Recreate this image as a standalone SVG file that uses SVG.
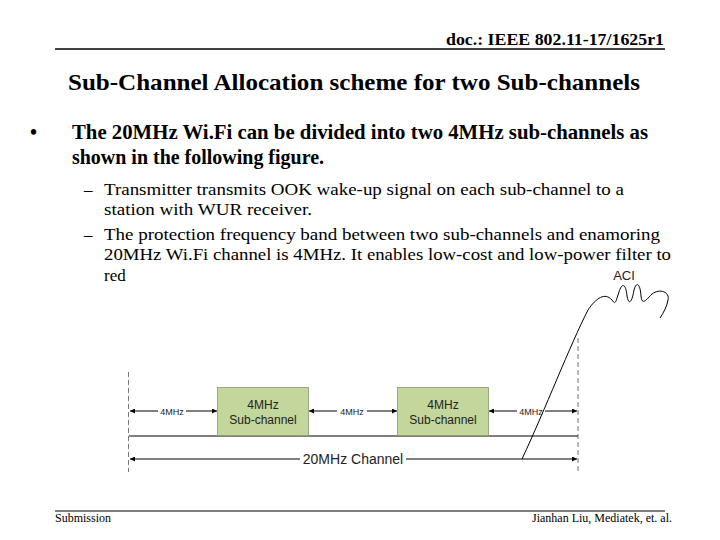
<svg xmlns="http://www.w3.org/2000/svg" width="720" height="540" viewBox="0 0 720 540">
<defs>
<marker id="a" viewBox="0 0 10 10" refX="10" refY="5" markerWidth="7" markerHeight="5" orient="auto-start-reverse" markerUnits="userSpaceOnUse"><path d="M0,0L10,5L0,10z" fill="#000"/></marker>
</defs>
<style>
.s{font-family:"Liberation Serif",serif;fill:#000}
.d{font-family:"Liberation Sans",sans-serif;fill:#222}
.ln{stroke:#000;stroke-width:1;fill:none}
.dash{stroke:#555;stroke-width:0.8;stroke-dasharray:5,3;fill:none}
.box{fill:#c3d69b;stroke:#8a9a6a;stroke-width:0.8}
</style>
<rect width="720" height="540" fill="#fff"/>
<text class="s" x="446" y="45" font-size="17" font-weight="bold" textLength="218" lengthAdjust="spacingAndGlyphs">doc.: IEEE 802.11-17/1625r1</text>
<line x1="55" y1="49" x2="665" y2="49" stroke="#000" stroke-width="1.5"/>
<text class="s" x="68" y="90" font-size="23" font-weight="bold" textLength="572" lengthAdjust="spacingAndGlyphs">Sub-Channel Allocation scheme for two Sub-channels</text>
<text class="s" x="30" y="139" font-size="20" font-weight="bold">•</text>
<text class="s" x="72" y="139" font-size="20" font-weight="bold" textLength="576" lengthAdjust="spacingAndGlyphs">The 20MHz Wi.Fi can be divided into two 4MHz sub-channels as</text>
<text class="s" x="72" y="164" font-size="20" font-weight="bold" textLength="252" lengthAdjust="spacingAndGlyphs">shown in the following figure.</text>
<text class="s" x="84" y="195" font-size="17">–</text>
<text class="s" x="104" y="195" font-size="17" textLength="520" lengthAdjust="spacingAndGlyphs">Transmitter transmits OOK wake-up signal on each sub-channel to a</text>
<text class="s" x="104" y="215" font-size="17" textLength="208" lengthAdjust="spacingAndGlyphs">station with WUR receiver.</text>
<text class="s" x="84" y="240" font-size="17">–</text>
<text class="s" x="104" y="240" font-size="17" textLength="556" lengthAdjust="spacingAndGlyphs">The protection frequency band between two sub-channels and enamoring</text>
<text class="s" x="104" y="260" font-size="17" textLength="567" lengthAdjust="spacingAndGlyphs">20MHz Wi.Fi channel is 4MHz. It enables low-cost and low-power filter to</text>
<text class="s" x="104" y="281" font-size="17">red</text>
<g id="connectors">
<line class="dash" x1="128.5" y1="372" x2="128.5" y2="472"/>
<line class="dash" x1="578" y1="338" x2="578" y2="472"/>
<line class="ln" x1="129" y1="436" x2="578" y2="436"/>
<line class="ln" x1="130" y1="411" x2="217" y2="411" marker-start="url(#a)" marker-end="url(#a)"/>
<line class="ln" x1="309" y1="411" x2="397" y2="411" marker-start="url(#a)" marker-end="url(#a)"/>
<line class="ln" x1="489" y1="411" x2="577" y2="411" marker-start="url(#a)" marker-end="url(#a)"/>
<line class="ln" x1="130" y1="459" x2="577" y2="459" marker-start="url(#a)" marker-end="url(#a)"/>
<rect x="158" y="405" width="28" height="12" fill="#fff"/>
<rect x="337" y="405" width="30" height="12" fill="#fff"/>
<rect x="517" y="405" width="28" height="12" fill="#fff"/>
<rect x="300" y="451" width="106" height="16" fill="#fff"/>
<path class="ln" stroke-width="0.8" d="M522,459 C545,410 570,345 588,310 C596,298 605,292 612,300 C616,306 616,300 619,292 C622,282 626,284 627,296 C629,306 632,302 634,290 C636,282 640,282 641,296 C642,306 646,300 652,294 C660,288 670,292 668,300 C667,306 664,312 660,318"/>
</g>
<g id="sub1"><rect class="box" x="217.5" y="387.5" width="91" height="48"/>
<text class="d" x="263" y="409" font-size="12" text-anchor="middle">4MHz</text>
<text class="d" x="263" y="424" font-size="12" text-anchor="middle">Sub-channel</text></g>
<g id="sub2"><rect class="box" x="397.5" y="387.5" width="91" height="48"/>
<text class="d" x="443" y="409" font-size="12" text-anchor="middle">4MHz</text>
<text class="d" x="443" y="424" font-size="12" text-anchor="middle">Sub-channel</text></g>
<g id="labels">
<text class="d" x="172" y="415" font-size="9" text-anchor="middle">4MHz</text>
<text class="d" x="352" y="415" font-size="9" text-anchor="middle">4MHz</text>
<text class="d" x="531" y="415" font-size="9" text-anchor="middle">4MHz</text>
<text class="d" x="353" y="464" font-size="14" text-anchor="middle">20MHz Channel</text>
<text class="d" x="624" y="280" font-size="13" text-anchor="middle">ACI</text>
</g>
<line x1="55" y1="511" x2="665" y2="511" stroke="#000" stroke-width="1"/>
<text class="s" x="55" y="522" font-size="12">Submission</text>
<text class="s" x="672" y="522" font-size="12" text-anchor="end">Jianhan Liu,  Mediatek, et. al.</text>
</svg>
